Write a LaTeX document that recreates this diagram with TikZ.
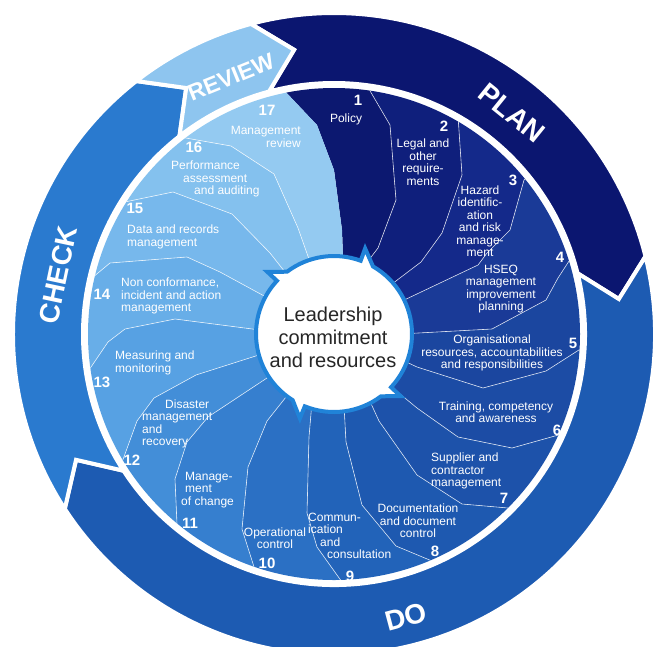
\documentclass[tikz,border=0pt]{standalone}
\usepackage{fontspec}
\setmainfont{Liberation Sans}
\usetikzlibrary{calc}

\definecolor{plan}{HTML}{0B1670}
\definecolor{do}{HTML}{1D5BB2}
\definecolor{check}{HTML}{2A7ACF}
\definecolor{review}{HTML}{8EC5EF}
\definecolor{hubline}{HTML}{2083D8}
\definecolor{seg1}{HTML}{0C1870}
\definecolor{seg2}{HTML}{0F1F7C}
\definecolor{seg3}{HTML}{14298A}
\definecolor{seg4}{HTML}{1A3A97}
\definecolor{seg5}{HTML}{1B469F}
\definecolor{seg6}{HTML}{1C4CA5}
\definecolor{seg7}{HTML}{1D52AA}
\definecolor{seg8}{HTML}{1E59B0}
\definecolor{seg9}{HTML}{2263B9}
\definecolor{seg10}{HTML}{2B70C4}
\definecolor{seg11}{HTML}{367FCF}
\definecolor{seg12}{HTML}{438ED8}
\definecolor{seg13}{HTML}{57A1E3}
\definecolor{seg14}{HTML}{68AEE8}
\definecolor{seg15}{HTML}{77B8EC}
\definecolor{seg16}{HTML}{84C1EE}
\definecolor{seg17}{HTML}{94CAF1}

\tikzstyle{hub} = [shift={(C)}]
\tikzstyle{band} = [draw=white, line width=4pt, line join=miter]
\tikzstyle{divider} = [draw=white, line width=0.6pt, opacity=0.8, line join=round]
\tikzstyle{item} = [text=white, inner sep=0pt, font=\fontsize{12}{12.5}\selectfont]
\tikzstyle{num} = [text=white, inner sep=0pt, font=\fontsize{15}{15}\selectfont\bfseries]
\tikzstyle{phase} = [text=white, inner sep=0pt, font=\fontsize{28}{28}\selectfont\bfseries]

\begin{document}
\begin{tikzpicture}[x=1pt, y=-1pt]
	\useasboundingbox (0,0) rectangle (653,646);
	\coordinate (C) at (334,334);

	% PDCA BANDS
	\filldraw[band, fill=plan] ([hub]105:321pt) arc[start angle=105, end angle=14, radius=321pt]
		-- ([hub]7:287pt) -- ([hub]14:251pt) arc[start angle=14, end angle=105, radius=251pt]
		-- ([hub]98:287pt) -- cycle;
	\filldraw[band, fill=do] ([hub]14:321pt) arc[start angle=14, end angle=-147, radius=321pt]
		-- ([hub]-154:287pt) -- ([hub]-147:251pt) arc[start angle=-147, end angle=14, radius=251pt]
		-- ([hub]7:287pt) -- cycle;
	\filldraw[band, fill=check] ([hub]213:321pt) arc[start angle=213, end angle=128, radius=321pt]
		-- ([hub]121:287pt) -- ([hub]128:251pt) arc[start angle=128, end angle=213, radius=251pt]
		-- ([hub]206:287pt) -- cycle;
	\filldraw[band, fill=review] ([hub]128:321pt) arc[start angle=128, end angle=105, radius=321pt]
		-- ([hub]98:287pt) -- ([hub]105:251pt) arc[start angle=105, end angle=128, radius=251pt]
		-- ([hub]121:287pt) -- cycle;

	\node[phase, rotate=-39] (plan) at (512,113) {PLAN};
	\node[phase, rotate=15] (do) at (406,617) {DO};
	\node[phase, rotate=78] (check) at (58,275) {CHECK};
	\node[phase, rotate=22, font=\fontsize{23}{23}\selectfont\bfseries] (review) at (231,77) {REVIEW};

	% ELEMENT BOUNDARIES
	\path (366,84) coordinate (b1-1) (390,125) coordinate (b1-2) (396,200) coordinate (b1-3) (378,248) coordinate (b1-4) (365,265) coordinate (b1-5);
	\path (458,116) coordinate (b2-1) (462,175) coordinate (b2-2) (442,233) coordinate (b2-3) (421,262) coordinate (b2-4) (388,287) coordinate (b2-5);
	\path (524,180) coordinate (b3-1) (510,230) coordinate (b3-2) (487,253) coordinate (b3-3) (478,265) coordinate (b3-4) (400,302) coordinate (b3-5);
	\path (571,258) coordinate (b4-1) (558,278) coordinate (b4-2) (546,300) coordinate (b4-3) (492,329) coordinate (b4-4) (400,334) coordinate (b4-5);
	\path (582,348) coordinate (b5-1) (546,371) coordinate (b5-2) (483,388) coordinate (b5-3) (417,367) coordinate (b5-4) (398,358) coordinate (b5-5);
	\path (562,434) coordinate (b6-1) (512,448) coordinate (b6-2) (458,437) coordinate (b6-3) (417,408) coordinate (b6-4) (388,384) coordinate (b6-5);
	\path (508,508) coordinate (b7-1) (462,504) coordinate (b7-2) (417,475) coordinate (b7-3) (379,421) coordinate (b7-4) (368,397) coordinate (b7-5);
	\path (432,561) coordinate (b8-1) (396,546) coordinate (b8-2) (362,505) coordinate (b8-3) (346,442) coordinate (b8-4) (344,405) coordinate (b8-5);
	\path (342,582) coordinate (b9-1) (317,547) coordinate (b9-2) (307,513) coordinate (b9-3) (309,437) coordinate (b9-4) (312,402) coordinate (b9-5);
	\path (255,570) coordinate (b10-1) (242,529) coordinate (b10-2) (248,467) coordinate (b10-3) (267,421) coordinate (b10-4) (290,392) coordinate (b10-5);
	\path (177,524) coordinate (b11-1) (175,479) coordinate (b11-2) (187,442) coordinate (b11-3) (208,417) coordinate (b11-4) (270,376) coordinate (b11-5);
	\path (121,465) coordinate (b12-1) (137,421) coordinate (b12-2) (154,398) coordinate (b12-3) (196,375) coordinate (b12-4) (262,354) coordinate (b12-5);
	\path (89,370) coordinate (b13-1) (108,342) coordinate (b13-2) (125,329) coordinate (b13-3) (175,319) coordinate (b13-4) (260,330) coordinate (b13-5);
	\path (92,278) coordinate (b14-1) (110,263) coordinate (b14-2) (187,257) coordinate (b14-3) (220,272) coordinate (b14-4) (266,297) coordinate (b14-5);
	\path (120,203) coordinate (b15-1) (173,192) coordinate (b15-2) (232,214) coordinate (b15-3) (270,253) coordinate (b15-4) (285,272) coordinate (b15-5);
	\path (180,137) coordinate (b16-1) (231,146) coordinate (b16-2) (274,174) coordinate (b16-3) (298,228) coordinate (b16-4) (310,262) coordinate (b16-5);
	\path (282,88) coordinate (b17-1) (317,125) coordinate (b17-2) (334,170) coordinate (b17-3) (342,230) coordinate (b17-4) (343,258) coordinate (b17-5);

	% ELEMENT RING
	\begin{scope}
		\clip (C) circle[radius=246pt];
		\foreach \i in {1,...,17} {
			\pgfmathtruncatemacro{\j}{mod(\i+15,17)+1}
			\fill[fill=seg\i] (C) -- (b\j-5) -- (b\j-4) -- (b\j-3) -- (b\j-2) -- (b\j-1)
				-- ($(C)!1.7!(b\j-1)$) -- ($(C)!1.7!(b\i-1)$)
				-- (b\i-1) -- (b\i-2) -- (b\i-3) -- (b\i-4) -- (b\i-5) -- cycle;
		}
		\foreach \k in {1,...,16}
			\draw[divider] ($(C)!1.7!(b\k-1)$) -- (b\k-1) -- (b\k-2) -- (b\k-3) -- (b\k-4) -- (b\k-5);
	\end{scope}

	% LEADERSHIP HUB
	\filldraw[fill=white, draw=hubline, line width=4pt, line join=miter]
		([hub]60:78pt) arc[start angle=60, end angle=-43, radius=78pt]
		-- ([hub]-43:91pt) -- ([hub]-53:78pt) arc[start angle=-53, end angle=-112, radius=78pt]
		-- ([hub]-112:91pt) -- ([hub]-122:78pt) arc[start angle=-122, end angle=-223, radius=78pt]
		-- ([hub]-223:91pt) -- ([hub]-233:78pt) arc[start angle=-233, end angle=-290, radius=78pt]
		-- ([hub]-290:91pt) -- cycle;
	\node[align=center, inner sep=0pt, text=black!85, font=\fontsize{20}{23}\selectfont] (lead) at (333,337) {Leadership\\commitment\\and resources};

	% ELEMENTS
	\node[num] (n1) at (358,100) {1};
	\node[item] (t1) at (346,119) {Policy};
	\node[num] (n2) at (444,126) {2};
	\node[item, align=center] (t2) at (423,162) {Legal and\\other\\require-\\ments};
	\node[num] (n3) at (513,180) {3};
	\node[item, align=center] (t3) at (480,221) {Hazard\\identific-\\ation\\and risk\\manage-\\ment};
	\node[num] (n4) at (560,257) {4};
	\node[item, align=center] (t4) at (501,289) {HSEQ\\management\\improvement\\planning};
	\node[num] (n5) at (573,343) {5};
	\node[item, align=center] (t5) at (492,353) {Organisational\\resources, accountabilities\\and responsibilities};
	\node[num] (n6) at (557,430) {6};
	\node[item, align=center] (t6) at (496,412) {Training, competency\\and awareness};
	\node[num] (n7) at (504,498) {7};
	\node[item, align=left, anchor=west] (t7) at (431,471) {Supplier and\\contractor\\management};
	\node[num] (n8) at (435,551) {8};
	\node[item, align=center] (t8) at (418,521) {Documentation\\and document\\control};
	\node[num] (n9) at (350,576) {9};
	\node[item, align=left, anchor=west] (t9) at (308,536) {Commun-\\ication\\\hspace{12pt}and\\\hspace{19pt}consultation};
	\node[num] (n10) at (267,563) {10};
	\node[item, align=center] (t10) at (275,538) {Operational\\control};
	\node[num] (n11) at (190,523) {11};
	\node[item, align=left, anchor=west] (t11) at (181,490) {\hspace{4pt}Manage-\\\hspace{4pt}ment\\of change};
	\node[num] (n12) at (132,460) {12};
	\node[item, align=left, anchor=west] (t12) at (142,424) {\hspace{23pt}Disaster\\management\\and\\recovery};
	\node[num] (n13) at (102,382) {13};
	\node[item, align=left, anchor=west] (t13) at (115,363) {Measuring and\\monitoring};
	\node[num] (n14) at (102,294) {14};
	\node[item, align=left, anchor=west] (t14) at (121,296) {Non conformance,\\incident and action\\management};
	\node[num] (n15) at (135,208) {15};
	\node[item, align=left, anchor=west] (t15) at (127,237) {Data and records\\management};
	\node[num] (n16) at (194,147) {16};
	\node[item, align=left, anchor=west] (t16) at (171,179) {Performance\\\hspace{12pt}assessment\\\hspace{23pt}and auditing};
	\node[num] (n17) at (267,110) {17};
	\node[item, align=right, anchor=east] (t17) at (301,137) {Management\\review};
\end{tikzpicture}
\end{document}
